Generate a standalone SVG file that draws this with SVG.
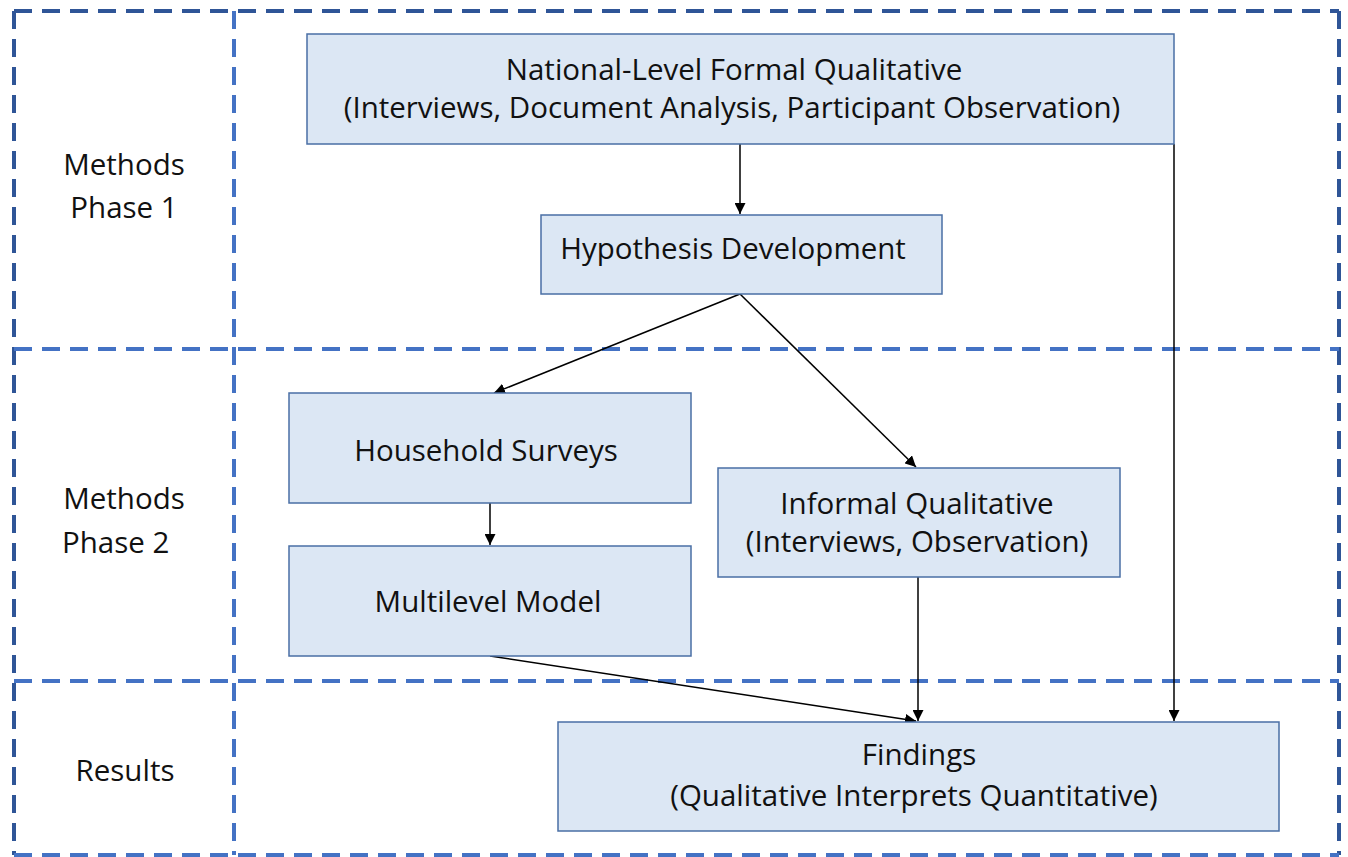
<svg xmlns="http://www.w3.org/2000/svg" width="1348" height="857" viewBox="0 0 1348 857">
<defs>
<marker id="ah" viewBox="0 0 10 10" refX="10" refY="5" markerWidth="11" markerHeight="11" markerUnits="userSpaceOnUse" orient="auto">
<path d="M0,0 L10,5 L0,10 z" fill="#000"/>
</marker>
<style>
.dash{fill:none;stroke:#4472c4;stroke-width:4;stroke-dasharray:18 10}
.dashd{fill:none;stroke:#2f5597;stroke-width:4;stroke-dasharray:18 10}
.box{fill:#dce7f4;stroke:#4a6fa5;stroke-width:1.5}
.t{font-family:"Open Sans","Liberation Sans",sans-serif;font-size:29.5px;fill:#111;text-anchor:middle}
.c{fill:none;stroke:#000;stroke-width:1.5;marker-end:url(#ah)}
</style>
</defs>
<rect width="1348" height="857" fill="#fff"/>
<g id="frame">
<line class="dashd" x1="14" y1="11" x2="1339" y2="11"/>
<line class="dashd" x1="14" y1="11" x2="14" y2="855"/>
<line class="dashd" x1="1339" y1="11" x2="1339" y2="855"/>
<line class="dash" x1="14" y1="855" x2="1339" y2="855"/>
<line class="dash" x1="234" y1="11" x2="234" y2="855"/>
<line class="dash" x1="14" y1="349" x2="1339" y2="349"/>
<line class="dash" x1="14" y1="681" x2="1339" y2="681"/>
</g>
<g id="labels">
<text class="t" x="124" y="175">Methods</text>
<text class="t" x="124" y="218">Phase 1</text>
<text class="t" x="124" y="509">Methods</text>
<text class="t" x="62" y="553" style="text-anchor:start">Phase 2</text>
<text class="t" x="125" y="781">Results</text>
</g>
<g id="connectors">
<line class="c" x1="740" y1="144" x2="740" y2="214"/>
<line class="c" x1="740" y1="294" x2="494" y2="393"/>
<line class="c" x1="740" y1="294" x2="916" y2="467"/>
<line class="c" x1="490" y1="503" x2="490" y2="545"/>
<line class="c" x1="490" y1="656" x2="916" y2="721"/>
<line class="c" x1="918" y1="577" x2="918" y2="721"/>
<line class="c" x1="1174" y1="144" x2="1174" y2="721"/>
</g>
<g id="national">
<rect class="box" x="307" y="34" width="867" height="110"/>
<text class="t" x="734" y="80">National-Level Formal Qualitative</text>
<text class="t" x="732" y="118">(Interviews, Document Analysis, Participant Observation)</text>
</g>
<g id="hypothesis">
<rect class="box" x="541" y="215" width="401" height="79"/>
<text class="t" x="733" y="259">Hypothesis Development</text>
</g>
<g id="household">
<rect class="box" x="289" y="393" width="402" height="110"/>
<text class="t" x="486" y="461">Household Surveys</text>
</g>
<g id="multilevel">
<rect class="box" x="289" y="546" width="402" height="110"/>
<text class="t" x="488" y="612">Multilevel Model</text>
</g>
<g id="informal">
<rect class="box" x="718" y="468" width="402" height="109"/>
<text class="t" x="917" y="514">Informal Qualitative</text>
<text class="t" x="917" y="552">(Interviews, Observation)</text>
</g>
<g id="findings">
<rect class="box" x="558" y="722" width="721" height="109"/>
<text class="t" x="919" y="765">Findings</text>
<text class="t" x="914" y="806">(Qualitative Interprets Quantitative)</text>
</g>
</svg>
